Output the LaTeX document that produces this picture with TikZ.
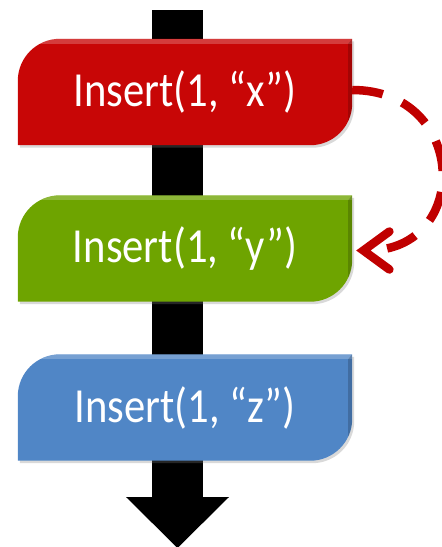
\documentclass[tikz,border=0pt]{standalone}
\usepackage{fontspec}
\setmainfont{Carlito}
\newfontfamily\labelfont[FakeStretch=0.87]{Carlito}
\usetikzlibrary{arrows.meta,backgrounds,calc,shadows}

\definecolor{stepred}{RGB}{200,6,6}
\definecolor{stepgreen}{RGB}{110,164,0}
\definecolor{stepblue}{RGB}{80,134,198}
\definecolor{loopred}{RGB}{192,0,0}

\tikzset{
  stage/.style={minimum width=334pt, minimum height=106pt, inner sep=0pt,
    text=white, font=\labelfont\fontsize{49}{54}\selectfont},
  loopback/.style={draw=loopred, line width=8.5pt, dash pattern=on 31pt off 21pt,
    -{Straight Barb[length=26pt,width=38pt,line cap=round]}},
  timeline/.style={fill=black},
}

% box outline: rounded top-left and bottom-right corners, square elsewhere
\newcommand\stageoutline[1]{%
  (#1.south west) -- ($(#1.north west)+(0,-42pt)$)
  arc[start angle=180,end angle=90,radius=42pt]
  -- (#1.north east) -- ($(#1.south east)+(0,42pt)$)
  arc[start angle=0,end angle=-90,radius=42pt] -- cycle}

\newcommand\stagebox[2]{%
  \fill[#2, drop shadow={opacity=0.3,shadow xshift=2pt,shadow yshift=-2.5pt}] \stageoutline{#1};
  \begin{scope}
    \clip \stageoutline{#1};
    % bevel: light band along the top, darker band down the right side
    \fill[white, opacity=0.22] ($(#1.north west)+(0,-5pt)$) rectangle (#1.north east);
    \fill[black, opacity=0.18] ($(#1.south east)+(-4pt,0)$) -- ($(#1.north east)+(-4pt,-5pt)$)
      -- (#1.north east) -- (#1.south east) -- cycle;
  \end{scope}}

\begin{document}
\begin{tikzpicture}[x=1pt,y=1pt]
  \useasboundingbox (0,0) rectangle (442,-547);

  \node[stage] (ins1) at (185,-92)    {Insert(1, “x”)};
  \node[stage] (ins2) at (185,-248.5) {Insert(1, “y”)};
  \node[stage] (ins3) at (185,-407.5) {Insert(1, “z”)};

  \begin{scope}[on background layer]
    % time axis running down behind the boxes
    \fill[timeline] (152,-10) rectangle (203,-497);
    \fill[timeline] (126,-497) -- (229,-497) -- (177.5,-548) -- cycle;
    \stagebox{ins1}{stepred}
    \stagebox{ins2}{stepgreen}
    \stagebox{ins3}{stepblue}
  \end{scope}

  \draw[loopback] ([yshift=2pt]ins1.east) .. controls +(116,0) and +(116,0) .. ([xshift=4pt,yshift=-2pt]ins2.east);
\end{tikzpicture}
\end{document}
